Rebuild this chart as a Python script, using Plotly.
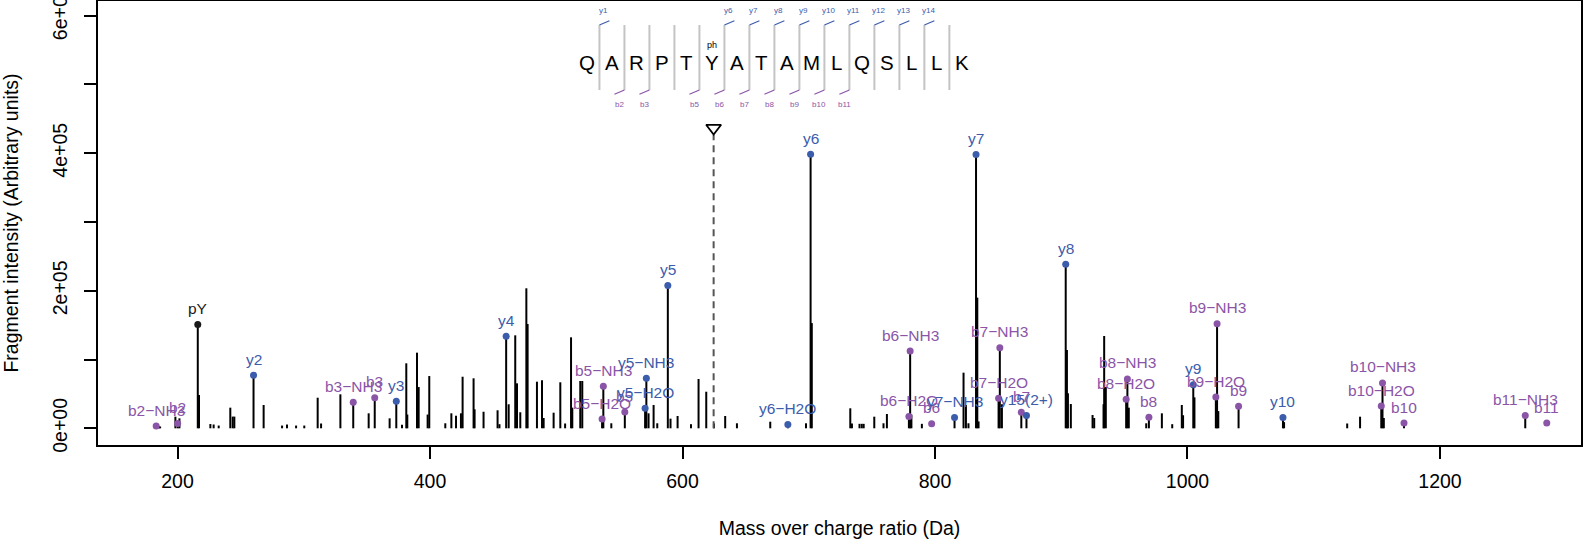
import plotly.graph_objects as go

# ---------------- data ----------------
peak_mz = [183.08, 185.5, 186.2, 198.3, 200.10, 201.5, 216.04, 217.0, 226.0, 228.6, 232.6,
           241.8, 243.7, 245.0, 260.20, 268.2, 282.8, 286.7, 293.9, 300.4, 311.0, 313.7,
           329.0, 339.18, 351.4, 356.20, 368.0, 373.28, 377.8, 381.2, 382.0, 389.7, 391.0,
           398.1, 399.4, 412.1, 416.9, 420.6, 424.5, 425.8, 434.5, 435.3, 442.4, 453.5,
           455.0, 460.31, 462.3, 467.5, 468.9, 471.5, 476.3, 477.3, 484.7, 488.7, 490.0,
           497.9, 503.2, 507.0, 511.7, 512.7, 519.0, 520.6, 536.29, 537.28, 543.6, 554.30,
           570.36, 571.35, 573.1, 577.1, 580.0, 588.37, 590.5, 596.1, 606.7, 612.7, 618.8,
           624.9, 633.8, 643.1, 669.5, 683.45, 697.8, 701.46, 702.4, 732.9, 734.2, 740.2,
           742.0, 743.5, 751.9, 759.2, 761.9, 779.32, 780.31, 781.3, 789.6, 815.47, 822.6,
           824.5, 826.5, 832.50, 833.5, 834.5, 850.36, 851.35, 853.0, 868.37, 872.45,
           903.53, 904.5, 905.3, 907.6, 924.8, 926.1, 933.5, 934.0, 935.3, 951.41, 952.39,
           953.5, 967.3, 969.42, 979.7, 987.9, 995.5, 996.5, 1004.58, 1005.5, 1022.45,
           1023.43, 1024.4, 1040.46, 1075.62, 1076.5, 1126.5, 1136.7, 1153.49, 1154.47,
           1155.5, 1171.50, 1267.55]
peak_int = [3300, 3000, 2500, 16900, 7300, 14500, 150800, 48400, 6200, 5500, 4000,
            30000, 17000, 17000, 77100, 33900, 4000, 5500, 4000, 4000, 44500, 7000,
            49400, 37800, 21800, 44600, 14500, 39300, 5000, 94500, 20000, 110000, 60000,
            20000, 76000, 7300, 21800, 18300, 21800, 75000, 72700, 27600, 24100, 26200,
            6000, 133800, 34900, 135200, 65400, 23300, 203600, 151700, 67800, 69800, 15000,
            22700, 66900, 7000, 132300, 30000, 68800, 68800, 13500, 61100, 7300, 23700,
            29100, 72700, 21800, 33900, 7300, 207500, 14000, 17900, 6000, 71700, 53200,
            7000, 17900, 7300, 9600, 5400, 7300, 398400, 153000, 29100, 7000, 6500,
            6500, 6500, 16900, 7300, 20800, 17000, 112400, 20000, 6500, 15600, 80900,
            33900, 7300, 398000, 190000, 10000, 43600, 117300, 35000, 23300, 18500,
            238600, 113900, 50900, 35300, 19300, 15000, 35000, 134200, 60000, 42200, 71700,
            30000, 7300, 16000, 21800, 6000, 33900, 19000, 63500, 45000, 45500,
            152200, 25000, 32000, 15600, 9000, 7000, 16900, 32400, 65900,
            15000, 7700, 18500]

ion_label = ["b2−NH3", "b2", "pY", "y2", "b3−NH3", "b3", "y3", "y4", "b5−NH3", "b5−H2O",
             "b5", "y5−NH3", "y5−H2O", "y5", "y6−H2O", "y6", "b6−NH3", "b6−H2O", "b6",
             "y7−NH3", "y7", "b7−NH3", "b7−H2O", "b7", "y15(2+)", "y8", "b8−NH3", "b8−H2O",
             "b8", "y9", "b9−NH3", "b9−H2O", "b9", "y10", "b10−NH3", "b10−H2O", "b10",
             "b11−NH3", "b11"]
ion_type = ["b", "b", "p", "y", "b", "b", "y", "y", "b", "b",
            "b", "y", "y", "y", "y", "y", "b", "b", "b",
            "y", "y", "b", "b", "b", "y", "y", "b", "b",
            "b", "y", "b", "b", "b", "y", "b", "b", "b",
            "b", "b"]
ion_mz = [183.08, 200.10, 216.04, 260.20, 339.18, 356.20, 373.28, 460.31, 537.28, 536.29,
          554.30, 571.35, 570.36, 588.37, 683.45, 701.46, 780.31, 779.32, 797.33,
          815.47, 832.50, 851.35, 850.36, 868.37, 872.45, 903.53, 952.39, 951.41,
          969.42, 1004.58, 1023.43, 1022.45, 1040.46, 1075.62, 1154.47, 1153.49, 1171.50,
          1267.55, 1284.58]
ion_int = [3300, 7100, 150800, 77100, 37800, 44600, 39300, 133800, 61100, 13500,
           23700, 72700, 29100, 207500, 5400, 398400, 112400, 17000, 6800,
           15600, 398000, 117300, 43600, 23300, 18500, 238600, 71700, 42200,
           16000, 63500, 152200, 45500, 32000, 15600, 65900, 32400, 7700,
           18500, 7700]

precursor_mz = 624.65

sequence = ["Q", "A", "R", "P", "T", "Y", "A", "T", "A", "M", "L", "Q", "S", "L", "L", "K"]
y_marks = [1, 6, 7, 8, 9, 10, 11, 12, 13, 14]
b_marks = [2, 3, 5, 6, 7, 8, 9, 10, 11]
mod_position = 5  # index of phosphorylated residue

x_ticks = [200, 400, 600, 800, 1000, 1200]
y_ticks = [0, 100000, 200000, 300000, 400000, 500000, 600000]
y_ticktext = ["0e+00", "", "2e+05", "", "4e+05", "", "6e+05"]

# ---------------- style ----------------
COL_Y = "#3C5CAC"
COL_B = "#8A55A7"
COL_P = "#1a1a1a"
FONT = "Liberation Sans, Arial, Helvetica, sans-serif"
col_of = {"y": COL_Y, "b": COL_B, "p": COL_P}

# conversion constants for the sequence graphic (data units per pixel)
PXX = 1 / 1.2627
PXY = 1454.1

fig = go.Figure()

# spectrum sticks
sx, sy = [], []
for m, h in zip(peak_mz, peak_int):
    sx += [m, m, None]
    sy += [0, h, None]
fig.add_trace(go.Scatter(x=sx, y=sy, mode="lines", line=dict(color="black", width=2),
                         hoverinfo="skip", showlegend=False))

# precursor dashed line and triangle
tri_y = 436600
fig.add_trace(go.Scatter(x=[precursor_mz, precursor_mz], y=[0, tri_y - 7 * PXY], mode="lines",
                         line=dict(color="#555555", width=2, dash="7px,5px"),
                         hoverinfo="skip", showlegend=False))
fig.add_trace(go.Scatter(x=[precursor_mz], y=[tri_y], mode="markers",
                         marker=dict(symbol="triangle-down-open", size=13,
                                     color="black", line=dict(width=1.8)),
                         hoverinfo="skip", showlegend=False))

# annotated ions dots
fig.add_trace(go.Scatter(x=ion_mz, y=ion_int, mode="markers",
                         marker=dict(size=7, color=[col_of[t] for t in ion_type]),
                         hoverinfo="skip", showlegend=False))

annotations = []
for lab, t, m, h in zip(ion_label, ion_type, ion_mz, ion_int):
    annotations.append(dict(x=m, y=h, xref="x", yref="y", text=lab, showarrow=False,
                            yshift=16, yanchor="middle", xanchor="center",
                            font=dict(family=FONT, size=15.5, color=col_of[t])))

# peptide sequence graphic
seq_x0 = 524.3
seq_step = 25 * PXX
seq_y = 531500
sep_top, sep_bot = 586400, 491900
shapes = []
for i, aa in enumerate(sequence):
    annotations.append(dict(x=seq_x0 + i * seq_step, y=seq_y, xref="x", yref="y", text=aa,
                            showarrow=False, font=dict(family=FONT, size=20.5, color="black")))
for k in range(1, len(sequence)):
    xs = seq_x0 + (k - 0.5) * seq_step
    shapes.append(dict(type="line", xref="x", yref="y", x0=xs, x1=xs, y0=sep_bot, y1=sep_top,
                       line=dict(color="#c4c4c4", width=2)))
for k in y_marks:
    xs = seq_x0 + (k - 0.5) * seq_step
    shapes.append(dict(type="line", xref="x", yref="y", x0=xs, x1=xs + 10 * PXX,
                       y0=sep_top, y1=sep_top + 4.3 * PXY, line=dict(color=COL_Y, width=1.2)))
    annotations.append(dict(x=xs + 4.5 * PXX, y=sep_top + 14.3 * PXY, xref="x", yref="y",
                            text="y%d" % k, showarrow=False,
                            font=dict(family=FONT, size=8, color=COL_Y)))
for k in b_marks:
    xs = seq_x0 + (k - 0.5) * seq_step
    shapes.append(dict(type="line", xref="x", yref="y", x0=xs, x1=xs - 10 * PXX,
                       y0=sep_bot, y1=sep_bot - 4.3 * PXY, line=dict(color=COL_B, width=1.2)))
    annotations.append(dict(x=xs - 5 * PXX, y=sep_bot - 14 * PXY, xref="x", yref="y",
                            text="b%d" % k, showarrow=False,
                            font=dict(family=FONT, size=8, color=COL_B)))
annotations.append(dict(x=seq_x0 + mod_position * seq_step, y=seq_y + 18 * PXY, xref="x", yref="y",
                        text="ph", showarrow=False, font=dict(family=FONT, size=9, color="black")))

fig.update_layout(
    width=1591, height=544,
    margin=dict(l=98, r=10, t=1, b=99),
    paper_bgcolor="white", plot_bgcolor="white",
    font=dict(family=FONT, size=19.5, color="black"),
    annotations=annotations, shapes=shapes,
    showlegend=False,
)
fig.update_xaxes(range=[137.0, 1311.7], tickvals=x_ticks, ticks="outside", ticklen=12,
                 tickwidth=1.5, tickcolor="black", showline=True, mirror=True,
                 linecolor="black", linewidth=1.8, showgrid=False, zeroline=False,
                 automargin=False, ticklabeloverflow="allow",
                 tickfont=dict(size=19.5), ticklabelstandoff=6,
                 title=dict(text="Mass over charge ratio (Da)", font=dict(size=19.5), standoff=30))
fig.update_yaxes(range=[-24280, 621350], tickvals=y_ticks, ticktext=y_ticktext, ticks="outside",
                 ticklen=12, tickwidth=1.5, tickcolor="black", showline=True, mirror=True,
                 linecolor="black", linewidth=1.8, showgrid=False, zeroline=False,
                 automargin=False, ticklabeloverflow="allow",
                 tickangle=-90, tickfont=dict(size=19.5), ticklabelstandoff=9,
                 title=dict(text="Fragment intensity (Arbitrary units)", font=dict(size=19.5),
                            standoff=25))

fig.write_html("out.html", config={"displayModeBar": False},
               post_script="document.body.style.margin='0';document.body.style.overflow='hidden';")
